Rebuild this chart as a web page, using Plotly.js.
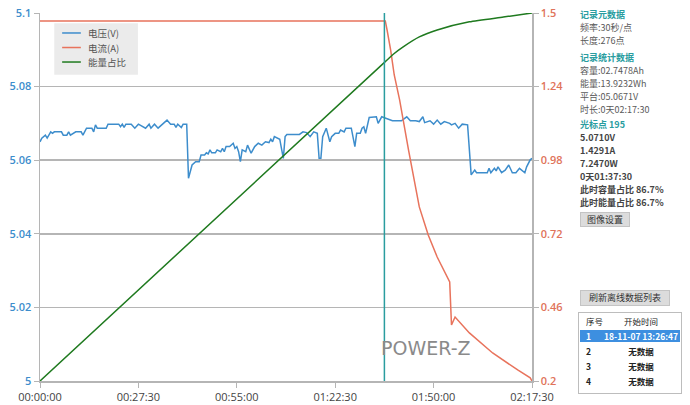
<!DOCTYPE html>
<html>
<head>
<meta charset="utf-8">
<script src="https://cdn.plot.ly/plotly-3.0.1.min.js"></script>
<style>
  html, body { margin: 0; padding: 0; background: #fff; }
  #wrap { position: relative; width: 690px; height: 405px; overflow: hidden;
          font-family: "Noto Sans CJK SC", "Noto Sans", sans-serif; }
  #chart { position: absolute; left: 0; top: 0; width: 690px; height: 405px; }
  .p { position: absolute; left: 580px; font-size: 9px; color: #5a5a5a; white-space: nowrap; line-height: 13px; height: 13px; }
  .h { color: #2a9d9f; font-weight: bold; }
  .d { color: #444; font-weight: bold; }
  .btn { position: absolute; background: #dcdcdc; border: 1px solid #c4c4c4; font-size: 9px;
         color: #333; text-align: center; line-height: 13px; white-space: nowrap; }
  .tbl { position: absolute; left: 578px; top: 312px; width: 102px; height: 80px; border: 1px solid #bdbdbd;
         background: #fff; font-size: 8.5px; color: #222; }
  .row { position: absolute; left: 1px; width: 100px; height: 12px; line-height: 12px; white-space: nowrap; }
  .row .n { position: absolute; left: 6px; font-weight: bold; }
  .row .t { position: absolute; left: 22px; width: 78px; text-align: center; font-weight: bold; white-space: nowrap; }
</style>
</head>
<body>
<div id="wrap">
  <div id="chart"></div>
</div>
<script>
// ---- data (x in sample index, 30 s per sample) ----
var samplePeriodSec = 30;
var xTickVals = [0, 55, 110, 165, 220, 275];
var xTickText = ["00:00:00", "00:27:30", "00:55:00", "01:22:30", "01:50:00", "02:17:30"];
var vTickVals = [5, 5.02, 5.04, 5.06, 5.08, 5.1];
var vTickText = ["5", "5.02", "5.04", "5.06", "5.08", "5.1"];
var aTickVals = [0.2, 0.46, 0.72, 0.98, 1.24, 1.5];
var aTickText = ["0.2", "0.46", "0.72", "0.98", "1.24", "1.5"];

var voltageIdx = [0,1,3,4,6,7,8,12,13,15,16,17,20,23,24,26,29,30,31,32,37,38,44,45,46,47,48,51,53,55,59,61,62,64,66,71,73,75,76,77,79,80,82,
  83,85,86,87,89,90,92,93,94,95,96,98,99,101,102,103,104,106,108,109,110,111,112,113,115,116,118,120,122,124,126,128,129,130,131,134,136,137,138,
  145,147,149,151,153,155,156,157,158,160,162,163,165,167,168,170,171,174,176,177,179,180,181,182,183,184,188,189,191,193,195,197,199,202,205,207,
  210,212,214,215,218,220,222,224,226,229,230,232,234,236,239,241,243,244,250,251,252,254,255,256,258,260,262,264,266,268,271,272,274,275];
var voltageV = [5.0650,5.0660,5.0668,5.0660,5.0677,5.0673,5.0677,5.0677,5.0668,5.0668,5.0677,5.0668,5.0677,5.0677,5.0668,5.0687,5.0687,5.0677,5.0696,5.0687,5.0687,5.0698,5.0698,5.0691,5.0698,5.0689,5.0698,5.0698,5.0687,5.0698,5.0687,5.0698,5.0687,5.0698,5.0687,5.0709,5.0698,5.0698,5.0689,5.0698,5.0689,5.0698,5.0698,
  5.0551,5.0587,5.0592,5.0596,5.0596,5.0614,5.0614,5.0620,5.0617,5.0628,5.0620,5.0620,5.0628,5.0623,5.0632,5.0623,5.0637,5.0637,5.0646,5.0632,5.0637,5.0623,5.0596,5.0628,5.0623,5.0641,5.0619,5.0637,5.0646,5.0641,5.0650,5.0648,5.0657,5.0650,5.0664,5.0657,5.0605,5.0664,5.0670,
  5.0670,5.0677,5.0675,5.0664,5.0677,5.0673,5.0605,5.0605,5.0664,5.0687,5.0650,5.0664,5.0673,5.0673,5.0682,5.0677,5.0687,5.0687,5.0637,5.0673,5.0673,5.0687,5.0691,5.0673,5.0696,5.0716,5.0718,5.0700,5.0718,5.0714,5.0710,5.0707,5.0707,5.0707,5.0718,5.0707,
  5.0707,5.0705,5.0718,5.0702,5.0707,5.0698,5.0709,5.0698,5.0705,5.0700,5.0696,5.0700,5.0687,5.0698,5.0696,5.0560,5.0573,5.0566,5.0566,5.0578,5.0566,5.0578,5.0571,5.0582,5.0566,5.0573,5.0587,5.0566,5.0566,5.0578,5.0566,5.0582,5.0601,5.0605];

var currentIdx = [0,193,194,196,198,201,206,211,212,217,222,229,230,232,240,253,261,267,274,275];
var currentA   = [1.472,1.472,1.44,1.369,1.281,1.193,1.016,0.839,0.815,0.716,0.638,0.550,0.398,0.426,0.370,0.299,0.264,0.239,0.211,0.200];

var energyIdx = [0,193,198,203,212,222,240,259,275];
var energyPct = [0,86.8,89.0,90.8,93.5,95.4,97.6,98.9,100];

var cursorIdx = 192.5;

var seriesNames = ["电压(V)", "电流(A)", "能量占比"];
var seriesColors = ["#3d8dcc", "#e8735c", "#1f7a1f"];

// ---- chart ----
var gridCol = "#b5b5b5";
var traces = [
  { x: voltageIdx, y: voltageV, name: seriesNames[0], type: "scatter", mode: "lines",
    line: { color: seriesColors[0], width: 1.5 }, yaxis: "y" },
  { x: currentIdx, y: currentA, name: seriesNames[1], type: "scatter", mode: "lines",
    line: { color: seriesColors[1], width: 1.5 }, yaxis: "y2" },
  { x: energyIdx, y: energyPct, name: seriesNames[2], type: "scatter", mode: "lines",
    line: { color: seriesColors[2], width: 1.5, shape: "spline", smoothing: 0.6 }, yaxis: "y3" }
];

// compact legend box (paper coordinates)
var legShapes = [
  { type: "rect", xref: "paper", yref: "paper", x0: 0.029, x1: 0.199, y0: 0.832, y1: 0.972,
    fillcolor: "#ebebeb", line: { width: 0 }, layer: "above" }
];
var legAnn = [];
var legY = [0.9457, 0.9062, 0.8668];
seriesNames.forEach(function (n, i) {
  legShapes.push({ type: "line", xref: "paper", yref: "paper", x0: 0.045, x1: 0.083, y0: legY[i], y1: legY[i],
                   line: { color: seriesColors[i], width: 1.5 }, layer: "above" });
  legAnn.push({ xref: "paper", yref: "paper", x: 0.094, y: legY[i], xanchor: "left", yanchor: "middle",
                text: n, showarrow: false, font: { size: 9.5, color: "#555", family: "Noto Sans CJK SC, sans-serif" } });
});

var layout = {
  width: 690, height: 405,
  margin: { l: 40, r: 158, t: 13, b: 24 },
  paper_bgcolor: "#ffffff", plot_bgcolor: "#ffffff",
  font: { family: "Open Sans, Noto Sans CJK SC, sans-serif", size: 11, color: "#444" },
  showlegend: false,
  xaxis: { range: [0, 275], tickvals: xTickVals, ticktext: xTickText, showgrid: false, zeroline: false,
           showline: true, linecolor: gridCol, linewidth: 1.5, ticks: "outside", ticklen: 5, tickcolor: gridCol,
           tickfont: { size: 11, color: "#444" }, fixedrange: true },
  yaxis: { range: [5, 5.1], tickvals: vTickVals, ticktext: vTickText, showgrid: true, gridcolor: gridCol, gridwidth: 1.5,
           zeroline: false, showline: true, linecolor: gridCol, linewidth: 1.5, ticks: "outside", ticklen: 5,
           tickcolor: gridCol, tickfont: { size: 11, color: "#3d8dcc", weight: 600 } },
  yaxis2: { range: [0.2, 1.5], tickvals: aTickVals, ticktext: aTickText, overlaying: "y", side: "right",
            showgrid: false, zeroline: false, showline: true, linecolor: gridCol, linewidth: 1.5,
            ticks: "outside", ticklen: 5, tickcolor: gridCol, tickfont: { size: 11, color: "#e0735a", weight: 600 } },
  yaxis3: { range: [0, 100], overlaying: "y", visible: false },
  shapes: [
    { type: "line", xref: "x", yref: "paper", x0: cursorIdx, x1: cursorIdx, y0: 0, y1: 1,
      line: { color: "#2a9d9f", width: 1.5 } }
  ].concat(legShapes),
  annotations: [
    { xref: "x", yref: "paper", x: 216, y: 0.055, text: "POWER-Z", showarrow: false,
      font: { family: "DejaVu Sans, sans-serif", size: 19, color: "#8a8a8a" } }
  ].concat(legAnn)
};

Plotly.newPlot("chart", traces, layout, { displayModeBar: false, staticPlot: true });

// ---- side panel (UI text) ----
var wrap = document.getElementById("wrap");
var panel = [
  ["记录元数据", 7.5, "h"], ["频率:30秒/点", 20.5, ""], ["长度:276点", 33.5, ""],
  ["记录统计数据", 50.5, "h"], ["容量:02.7478Ah", 63.5, ""], ["能量:13.9232Wh", 76.5, ""],
  ["平台:05.0671V", 89.5, ""], ["时长:0天02:17:30", 102.5, ""],
  ["光标点 195", 117.5, "h"], ["5.0710V", 130.5, "d"], ["1.4291A", 143.5, "d"], ["7.2470W", 156.5, "d"],
  ["0天01:37:30", 169.5, "d"], ["此时容量占比 86.7%", 182.5, "d"], ["此时能量占比 86.7%", 195.5, "d"]
];
panel.forEach(function (p) {
  var d = document.createElement("div");
  d.className = "p " + p[2];
  d.style.top = p[1] + "px";
  d.textContent = p[0];
  wrap.appendChild(d);
});
function addBtn(txt, l, t, w, h) {
  var b = document.createElement("div");
  b.className = "btn";
  b.style.left = l + "px"; b.style.top = t + "px"; b.style.width = w + "px"; b.style.height = h + "px";
  b.textContent = txt;
  wrap.appendChild(b);
}
addBtn("图像设置", 580, 212, 48, 13);
addBtn("刷新离线数据列表", 580, 290, 88, 14);

var tbl = document.createElement("div");
tbl.className = "tbl";
wrap.appendChild(tbl);
var rows = [["序号", "开始时间", 2, false], ["1", "18-11-07 13:26:47", 17, true],
            ["2", "无数据", 32, false], ["3", "无数据", 47, false], ["4", "无数据", 62, false]];
rows.forEach(function (r) {
  var d = document.createElement("div");
  d.className = "row";
  d.style.top = r[2] + "px";
  if (r[3]) { d.style.background = "#3d8fe0"; d.style.color = "#fff"; }
  var n = document.createElement("span"); n.className = "n"; n.textContent = r[0];
  var t = document.createElement("span"); t.className = "t"; t.textContent = r[1];
  if (r[2] === 2) { n.style.fontWeight = "normal"; t.style.fontWeight = "normal"; }
  d.appendChild(n); d.appendChild(t);
  tbl.appendChild(d);
});
</script>
</body>
</html>
